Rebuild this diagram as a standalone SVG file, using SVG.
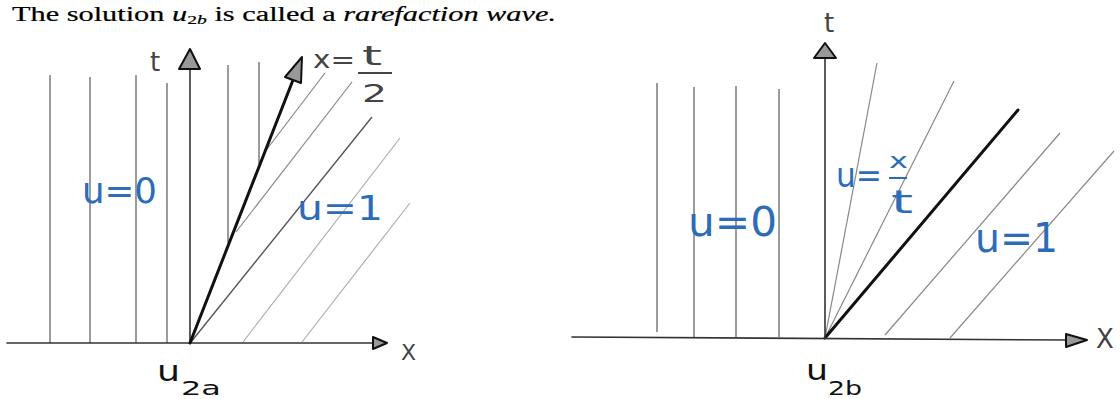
<svg xmlns="http://www.w3.org/2000/svg" width="1120" height="399" viewBox="0 0 1120 399">
<style>
.ax{stroke:#333;stroke-width:1.6;fill:none;stroke-linecap:round}
.v{stroke:#666;stroke-width:1.3;fill:none}
.d{stroke:#888;stroke-width:1.2;fill:none}
.dl{stroke:#aaa;stroke-width:1.1;fill:none}
.dk{stroke:#555;stroke-width:1.4;fill:none}
.thick{stroke:#111;stroke-width:3;fill:none;stroke-linecap:round}
.head{fill:#999;stroke:#111;stroke-width:2;stroke-linejoin:round}
.blue{fill:#2c6cb8;font-family:"DejaVu Sans",sans-serif}
.hand{fill:#444;font-family:"DejaVu Sans",sans-serif}
.serif{font-family:"Liberation Serif",serif;fill:#000;stroke:#000;stroke-width:0.2}
.sub{fill:#111;font-family:"DejaVu Sans",sans-serif}
</style>
<rect width="1120" height="399" fill="#fff"/>

<g id="caption">
<text class="serif" x="12" y="21" font-size="20" textLength="544" lengthAdjust="spacingAndGlyphs">The solution <tspan font-style="italic">u</tspan><tspan font-size="13" dy="3">2<tspan font-style="italic">b</tspan></tspan><tspan dy="-3"> is called a </tspan><tspan font-style="italic">rarefaction wave.</tspan></text>
</g>

<g id="diagram-a">
<g id="a-lines">
<line class="v" x1="50" y1="75" x2="50" y2="343"/>
<line class="v" x1="90" y1="77" x2="90" y2="343"/>
<line class="v" x1="136" y1="75" x2="136" y2="343"/>
<line class="v" x1="167" y1="83" x2="167" y2="343"/>
<line class="v" x1="228" y1="65" x2="228" y2="243"/>
<line class="v" x1="259" y1="62" x2="259" y2="164"/>
<line class="d" x1="264" y1="153" x2="325" y2="73"/>
<line class="d" x1="236" y1="232" x2="352" y2="82"/>
<line class="dk" x1="191" y1="342" x2="372" y2="117"/>
<line class="dl" x1="243" y1="342" x2="400" y2="138"/>
<line class="dl" x1="302" y1="342" x2="410" y2="203"/>
</g>
<g id="a-axes">
<line class="ax" x1="7" y1="343" x2="375" y2="343"/>
<polygon class="head" points="387,343 373,337 373,349"/>
<line class="ax" x1="190" y1="343" x2="190" y2="66"/>
<polygon class="head" points="190,49 179,69 200,69"/>
<line class="thick" x1="190" y1="343" x2="293" y2="80"/>
<polygon class="head" points="302,57 301,83 285,77"/>
</g>
<g id="a-labels">
<text class="hand" x="150" y="71" font-size="26" fill="#777">t</text>
<text class="hand" x="401" y="360" font-size="22">X</text>
<text class="hand" x="313" y="68" font-size="24" textLength="42" lengthAdjust="spacingAndGlyphs">x=</text>
<text class="hand" x="362" y="65" font-size="26" textLength="20" lengthAdjust="spacingAndGlyphs">t</text>
<line x1="358" y1="73" x2="392" y2="73" stroke="#444" stroke-width="1.8"/>
<text class="hand" x="362" y="102" font-size="24" textLength="25" lengthAdjust="spacingAndGlyphs">2</text>
<text class="blue" x="82" y="203" font-size="36" textLength="75" lengthAdjust="spacingAndGlyphs">u=0</text>
<text class="blue" x="297" y="220" font-size="34" textLength="86" lengthAdjust="spacingAndGlyphs">u=1</text>
<text class="sub" x="157" y="381" font-size="28" textLength="23" lengthAdjust="spacingAndGlyphs">u</text>
<text class="sub" x="181" y="395" font-size="20" textLength="40" lengthAdjust="spacingAndGlyphs">2a</text>
</g>
</g>

<g id="diagram-b">
<g id="b-lines">
<line class="v" x1="657" y1="83" x2="657" y2="332"/>
<line class="v" x1="694" y1="87" x2="694" y2="337"/>
<line class="v" x1="736" y1="86" x2="736" y2="337"/>
<line class="v" x1="779" y1="89" x2="779" y2="337"/>
<line class="d" x1="825" y1="338" x2="877" y2="63"/>
<line class="d" x1="825" y1="338" x2="954" y2="81"/>
<line class="d" x1="885" y1="335" x2="1060" y2="133"/>
<line class="d" x1="950" y1="338" x2="1114" y2="151"/>
<line class="thick" x1="825" y1="338" x2="1018" y2="110" stroke-width="2.6"/>
</g>
<g id="b-axes">
<line class="ax" x1="572" y1="337" x2="1068" y2="340"/>
<polygon class="head" points="1087,340 1066,334 1066,347"/>
<line class="ax" x1="825" y1="338" x2="825" y2="58"/>
<polygon class="head" points="825,43 814,58 836,58"/>
</g>
<g id="b-labels">
<text class="hand" x="824" y="32" font-size="26" fill="#555">t</text>
<text class="hand" x="1096" y="348" font-size="26">X</text>
<text class="blue" x="836" y="187" font-size="34" textLength="46" lengthAdjust="spacingAndGlyphs">u=</text>
<text class="blue" x="889" y="168" font-size="22" textLength="19" lengthAdjust="spacingAndGlyphs">x</text>
<line x1="889" y1="178" x2="907" y2="178" stroke="#2c6cb8" stroke-width="2"/>
<text class="blue" x="891" y="213" font-size="32" textLength="22" lengthAdjust="spacingAndGlyphs">t</text>
<text class="blue" x="688" y="236" font-size="40" textLength="89" lengthAdjust="spacingAndGlyphs">u=0</text>
<text class="blue" x="975" y="252" font-size="40" textLength="83" lengthAdjust="spacingAndGlyphs">u=1</text>
<text class="sub" x="806" y="380" font-size="28" textLength="22" lengthAdjust="spacingAndGlyphs">u</text>
<text class="sub" x="828" y="395" font-size="20" textLength="34" lengthAdjust="spacingAndGlyphs">2b</text>
</g>
</g>
</svg>
